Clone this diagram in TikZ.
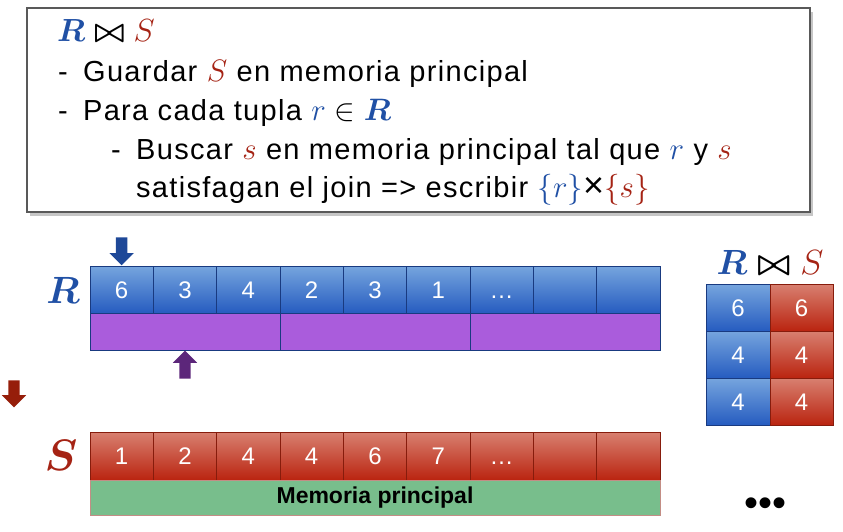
\RequirePackage{fix-cm}
\documentclass[tikz,border=0pt]{standalone}
\usepackage{amsmath}
\usepackage{fontspec}
\setmainfont{Liberation Sans}
\newfontfamily\widesans[LetterSpace=4.5]{Liberation Sans}
\usetikzlibrary{shapes.arrows,shadows}
\definecolor{relblue}{RGB}{32,80,165}
\definecolor{relred}{RGB}{165,35,20}
\definecolor{celltopblue}{RGB}{118,165,222}
\definecolor{cellbotblue}{RGB}{38,92,192}
\definecolor{celllineblue}{RGB}{25,58,128}
\definecolor{celltopred}{RGB}{216,128,112}
\definecolor{cellbotred}{RGB}{186,36,16}
\definecolor{celllinered}{RGB}{135,28,12}
\definecolor{bufpurple}{RGB}{170,92,220}
\definecolor{memgreen}{RGB}{120,190,140}
\definecolor{ptrblue}{RGB}{30,72,152}
\definecolor{ptrpurple}{RGB}{92,38,122}
\definecolor{ptrred}{RGB}{150,30,10}

\newcommand{\mathbig}[1]{{\fontsize{31}{31}\selectfont$#1$}}
\newcommand{\relR}{{\color{relblue}\boldsymbol{R}}}
\newcommand{\relS}{{\color{relred}S}}
\newcommand{\joinop}{\boldsymbol{\bowtie}}

\tikzset{
  algobox/.style={draw=black!65,line width=1.2pt,fill=white,
    drop shadow={shadow xshift=3pt,shadow yshift=-4pt,opacity=0.45},
    minimum width=783pt,minimum height=204pt,inner sep=0pt},
  algoline/.style={anchor=base west,inner sep=0pt,font=\widesans\fontsize{29}{29}\selectfont},
  rcell/.style={draw=celllineblue,line width=0.8pt,top color=celltopblue,bottom color=cellbotblue,
    minimum width=63.33pt,minimum height=47pt,inner sep=0pt,text=white,
    text height=17pt,text depth=0pt,font=\fontsize{24}{24}\selectfont},
  scell/.style={rcell,draw=celllinered,top color=celltopred,bottom color=cellbotred,minimum height=48pt},
  bufblock/.style={draw=celllineblue,line width=0.8pt,fill=bufpurple,
    minimum width=190pt,minimum height=37pt,inner sep=0pt},
  pointer/.style={single arrow,shape border rotate=#1,inner sep=5.5pt,
    minimum width=24pt,minimum height=28pt,single arrow head extend=6.5pt,
    single arrow head indent=0pt}
}

\begin{document}
\begin{tikzpicture}[x=1pt,y=-1pt]
\useasboundingbox (0,0) rectangle (843,532);

% Algorithm
\node[algobox] (algo) at (418.5,110) {};
\node[algoline,font=\fontsize{32}{32}\selectfont] (title) at (57,42)
  {$\relR\joinop\relS$};
\node[algoline] (dash1) at (58,82) {-};
\node[algoline] (step1) at (83,82) {Guardar \mathbig{\relS} en memoria principal};
\node[algoline] (dash2) at (58,121) {-};
\node[algoline] (step2) at (83,121) {Para cada tupla \mathbig{{\color{relblue}r}\in\relR}};
\node[algoline] (dash3) at (111,159) {-};
\node[algoline] (step3) at (136,159) {Buscar \mathbig{\color{relred}s} en memoria principal tal que
  \mathbig{\color{relblue}r} y \mathbig{\color{relred}s}};
\node[algoline] (step4) at (136,197) {satisfagan el join => escribir
  \mathbig{\color{relblue}\{r\}}{\fontsize{36}{36}\selectfont×}\mathbig{\color{relred}\{s\}}};

% Relation R with its buffer
\node[font=\fontsize{38}{38}\selectfont] (rname) at (63,290) {$\relR$};
\foreach \v [count=\i] in {6,3,4,2,3,1,\ldots,{},{}}
  \node[rcell] (r\i) at ({90+63.33*(\i-0.5)},289.5) {\v};
\foreach \i in {1,2,3}
  \node[bufblock] (buf\i) at ({90+190*(\i-0.5)},331.5) {};

% Relation S in main memory
\node[font=\fontsize{44}{44}\selectfont] (sname) at (61,455) {$\color{relred}\boldsymbol{S}$};
\foreach \v [count=\i] in {1,2,4,4,6,7,\ldots,{},{}}
  \node[scell] (s\i) at ({90+63.33*(\i-0.5)},456) {\v};
\node[draw=celllinered!50,fill=memgreen,minimum width=570pt,minimum height=35pt,inner sep=0pt,
  font=\bfseries\fontsize{23}{23}\selectfont] (mem) at (375,497.5) {Memoria principal};

% Pointers
\node[pointer=270,fill=ptrblue,anchor=tip] (rptr) at (r1.north) {};
\node[pointer=90,fill=ptrpurple,anchor=tip] (bptr) at (buf1.south) {};
\node[pointer=270,fill=ptrred,minimum width=22pt,minimum height=27pt] (sptr) at (14,391) {};

% Output
\node[font=\fontsize{35}{35}\selectfont] (outname) at (770,262)
  {$\relR\joinop\relS$};
\foreach \v [count=\i] in {6,4,4} {
  \node[rcell,minimum width=64pt] (or\i) at (738,{260.5+47*\i}) {\v};
  \node[scell,minimum width=63pt,minimum height=47pt] (os\i) at (801.5,{260.5+47*\i}) {\v};
}
\node[font=\fontsize{40}{40}\selectfont] (more) at (765,507) {•••};
\end{tikzpicture}
\end{document}
